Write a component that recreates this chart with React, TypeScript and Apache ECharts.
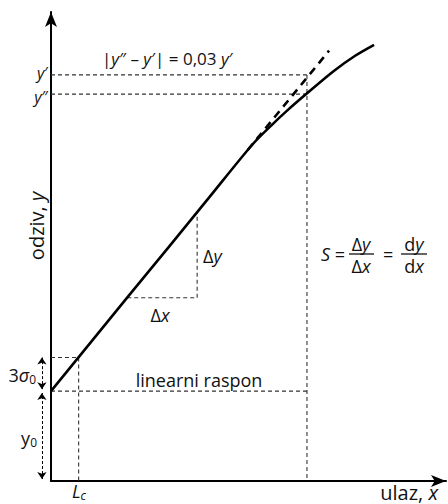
import React, { useEffect, useRef } from "react";
import * as echarts from "echarts";

// axis ranges (arbitrary units)
const xMax = 10;
const yMax = 12;

// response curve (linear part then bending)
const curveX = [0, 1, 2, 3, 4, 5.1, 5.6, 5.97, 6.46, 7.16, 7.7, 8.18];
const curveY = [2.3, 3.54, 4.78, 6.01, 7.25, 8.61, 9.12, 9.47, 9.9, 10.49, 10.88, 11.16];

// tangent extension (dashed)
const tangentX = [4.98, 7.04];
const tangentY = [8.47, 11.01];

// characteristic levels
const y0 = 2.3;
const y3s = 3.16;
const Lc = 0.7;
const xUpper = 6.48;
const yPrime = 10.39;
const yDouble = 9.9;
const dxX = [1.93, 3.7];
const dxY = 4.69;
const dyTop = 6.88;
const arrowX = -0.23;

const FONT = "'Open Sans', 'Noto Sans', sans-serif";

export default function App() {
  const ref = useRef<HTMLDivElement>(null);
  useEffect(() => {
    if (!ref.current) return;
    const chart = echarts.init(ref.current, undefined, { renderer: "svg" });
    const guide = (pts: number[][]) => ({
      type: "line",
      data: pts,
      symbol: "none",
      silent: true,
      lineStyle: { color: "#333", width: 1.1, type: [4, 3] },
      z: 1,
    });
    const txt = (x: number, y: number, text: string, extra: any = {}, fs = 18) => ({
      type: "text",
      x,
      y,
      style: {
        text,
        fontFamily: FONT,
        fontSize: fs,
        fill: "#111",
        align: "left",
        verticalAlign: "middle",
        rich: {
          i: { fontStyle: "italic", fontSize: fs, fontFamily: FONT, fill: "#111" },
          sub: { fontSize: 12, fontFamily: FONT, fill: "#111", padding: [8, 0, 0, 0] },
          isub: { fontSize: 12, fontStyle: "italic", fontFamily: FONT, fill: "#111", padding: [8, 0, 0, 0] },
        },
        ...extra,
      },
    });
    chart.setOption({
      animation: false,
      grid: { left: 51, top: 12, width: 395, height: 469 },
      xAxis: {
        type: "value",
        min: 0,
        max: xMax,
        axisLine: { show: true, lineStyle: { color: "#000", width: 2 }, symbol: ["none", "arrow"], symbolSize: [9, 15] },
        axisTick: { show: false },
        axisLabel: { show: false },
        splitLine: { show: false },
      },
      yAxis: {
        type: "value",
        min: 0,
        max: yMax,
        axisLine: { show: true, lineStyle: { color: "#000", width: 2 }, symbol: ["none", "arrow"], symbolSize: [9, 15] },
        axisTick: { show: false },
        axisLabel: { show: false },
        splitLine: { show: false },
      },
      series: [
        guide([[0, yPrime], [xUpper, yPrime]]),
        guide([[0, yDouble], [xUpper, yDouble]]),
        guide([[xUpper, yPrime], [xUpper, 0]]),
        guide([[0, y0], [xUpper, y0]]),
        guide([[0, y3s], [Lc, y3s]]),
        guide([[Lc, y3s], [Lc, 0]]),
        guide([[dxX[0], dxY], [dxX[1], dxY]]),
        guide([[dxX[1], dxY], [dxX[1], dyTop]]),
        {
          type: "line",
          data: curveX.map((x, i) => [x, curveY[i]]),
          smooth: 0.3,
          symbol: "none",
          lineStyle: { color: "#000", width: 2.6 },
          z: 3,
        },
        {
          type: "line",
          data: tangentX.map((x, i) => [x, tangentY[i]]),
          symbol: "none",
          lineStyle: { color: "#000", width: 2.6, type: [8, 6] },
          z: 3,
        },
        {
          type: "lines",
          coordinateSystem: "cartesian2d",
          clip: false,
          symbol: ["arrow", "arrow"],
          symbolSize: 7,
          lineStyle: { color: "#000", width: 1, opacity: 1, type: [3, 2] },
          data: [
            { coords: [[arrowX, 0.05], [arrowX, y0 - 0.05]] },
            { coords: [[arrowX, y0 + 0.05], [arrowX, y3s]] },
          ],
          z: 2,
        },
      ],
      graphic: [
        txt(48, 73, "{i|y}\u2032", { align: "right" }, 16),
        txt(48, 97, "{i|y}\u2033", { align: "right" }, 16),
        txt(102, 58, "|{i|y}\u2033 \u2013 {i|y}\u2032| = 0,03 {i|y}\u2032", {}, 17),
        txt(36, 375, "3{i|\u03c3}{sub|0}", { align: "right" }),
        txt(37, 438, "y{sub|0}", { align: "right" }),
        txt(79, 491, "{i|L}{isub|c}", { align: "center" }),
        txt(438, 492, "ulaz, {i|x}", { align: "right" }, 20),
        {
          type: "text",
          x: 36,
          y: 226,
          rotation: Math.PI / 2,
          style: {
            text: "odziv, {i|y}",
            fontFamily: FONT,
            fontSize: 20,
            fill: "#111",
            align: "center",
            verticalAlign: "middle",
            rich: { i: { fontStyle: "italic", fontSize: 20, fontFamily: FONT, fill: "#111" } },
          },
        },
        txt(199, 380, "linearni raspon", { align: "center" }),
        txt(203, 256, "\u0394{i|y}"),
        txt(160, 315, "\u0394{i|x}", { align: "center" }),
        txt(321, 254, "{i|S} ="),
        txt(361, 244, "\u0394{i|y}", { align: "center" }),
        txt(361, 266, "\u0394{i|x}", { align: "center" }),
        { type: "line", shape: { x1: 349, y1: 254, x2: 374, y2: 254 }, style: { stroke: "#111", lineWidth: 1.3 } },
        txt(383, 254, "="),
        txt(414, 244, "d{i|y}", { align: "center" }),
        txt(414, 266, "d{i|x}", { align: "center" }),
        { type: "line", shape: { x1: 401, y1: 254, x2: 427, y2: 254 }, style: { stroke: "#111", lineWidth: 1.3 } },
      ],
    });
    return () => chart.dispose();
  }, []);
  return <div ref={ref} style={{ width: 448, height: 504, position: "absolute", left: 0, top: 0 }} />;
}
